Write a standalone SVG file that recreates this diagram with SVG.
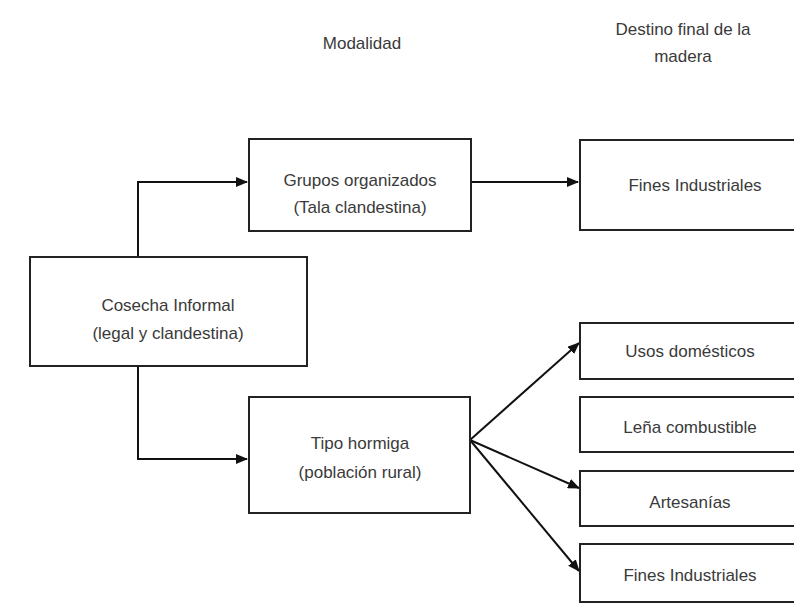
<svg xmlns="http://www.w3.org/2000/svg" width="794" height="606" viewBox="0 0 794 606">
<defs>
<marker id="arr" markerWidth="12" markerHeight="10" refX="11" refY="5" orient="auto" markerUnits="userSpaceOnUse">
<path d="M0,0 L12,5 L0,10 z" fill="#111"/>
</marker>
<style>
.box{fill:#fff;stroke:#222;stroke-width:2}
.t{font-family:"Liberation Sans",Arial,sans-serif;font-size:17px;fill:#3a3a3a;text-anchor:middle}
.c{fill:none;stroke:#111;stroke-width:2}
</style>
</defs>
<rect width="794" height="606" fill="#fff"/>
<g id="headers">
<text class="t" x="362" y="49">Modalidad</text>
<text class="t" x="683" y="35">Destino final de la</text>
<text class="t" x="683" y="62">madera</text>
</g>
<g id="connectors">
<path class="c" d="M138,257 V182 H247" marker-end="url(#arr)"/>
<path class="c" d="M138,366 V459 H247" marker-end="url(#arr)"/>
<path class="c" d="M471,182 H578" marker-end="url(#arr)"/>
<path class="c" d="M470,440 L579,343" marker-end="url(#arr)"/>
<path class="c" d="M470,440 L579,488" marker-end="url(#arr)"/>
<path class="c" d="M470,440 L579,571" marker-end="url(#arr)"/>
</g>
<g id="cosecha">
<rect class="box" x="30" y="257" width="277" height="109"/>
<text class="t" x="168" y="311">Cosecha Informal</text>
<text class="t" x="168" y="339">(legal y clandestina)</text>
</g>
<g id="grupos">
<rect class="box" x="249" y="139" width="222" height="92"/>
<text class="t" x="360" y="186">Grupos organizados</text>
<text class="t" x="360" y="213">(Tala clandestina)</text>
</g>
<g id="tipo">
<rect class="box" x="249" y="397" width="221" height="116"/>
<text class="t" x="360" y="449">Tipo hormiga</text>
<text class="t" x="360" y="478">(población rural)</text>
</g>
<g id="fines1">
<rect class="box" x="580" y="140" width="230" height="90"/>
<text class="t" x="695" y="191">Fines Industriales</text>
</g>
<g id="usos">
<rect class="box" x="580" y="323" width="230" height="56"/>
<text class="t" x="690" y="357">Usos domésticos</text>
</g>
<g id="lena">
<rect class="box" x="580" y="397" width="230" height="55"/>
<text class="t" x="690" y="433">Leña combustible</text>
</g>
<g id="artesanias">
<rect class="box" x="580" y="471" width="230" height="55"/>
<text class="t" x="690" y="508">Artesanías</text>
</g>
<g id="fines2">
<rect class="box" x="580" y="544" width="230" height="58"/>
<text class="t" x="690" y="581">Fines Industriales</text>
</g>
</svg>
